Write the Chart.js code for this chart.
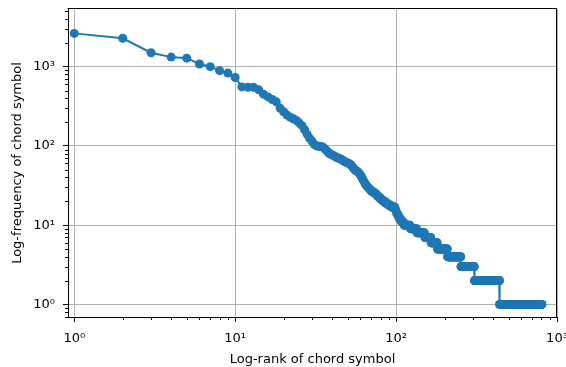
<!DOCTYPE html>
<html>
<head>
<meta charset="utf-8">
<script src="https://cdn.jsdelivr.net/npm/chart.js@4.4.1/dist/chart.umd.min.js"></script>
<style>
html,body{margin:0;padding:0;background:#fff;}
#wrap{width:566px;height:367px;position:relative;}
</style>
</head>
<body>
<div id="wrap"><canvas id="grafico"></canvas></div>
<script>

// =====================================
// DADOS
// =====================================

// frequencia por rank (rank 1 .. 111)
const freqTopo = [
    2630, 2280, 1500, 1320, 1280, 1080, 1000, 890, 830, 730,
    555, 550, 550, 510, 450, 415, 385, 360, 300, 270,
    245, 230, 220, 210, 195, 180, 160, 140, 125, 115,
    105, 100, 99, 98, 97, 92, 87, 82, 79, 77,
    75, 73, 71, 70, 69, 67, 65, 63, 62, 61,
    60, 58, 56, 53, 51, 49, 48, 47, 45, 43,
    41, 38, 36, 34, 32, 31, 30, 29, 28, 27,
    27, 26, 26, 25, 25, 24, 23, 23, 22, 22,
    21, 21, 20, 20, 20, 19, 19, 19, 18, 18,
    18, 18, 17, 17, 17, 17, 17, 17, 16, 15,
    14, 14, 13, 13, 12, 12, 12, 11, 11, 11,
    11
];

// cauda: patamares de frequencia e quantos ranks seguidos tem cada um
const caudaValores = [10, 9, 8, 7, 6, 5, 4, 3, 2, 1];
const caudaQtd     = [11, 12, 16, 14, 16, 28, 44, 54, 133, 366];

const ticksX = [1, 10, 100, 1000];
const ticksY = [1, 10, 100, 1000];
const sobrescrito = ["⁰", "¹", "²", "³"];

const xMin = 0.914, xMax = 1000;
const yMin = 0.694, yMax = 5340;


// =====================================
// PONTOS
// =====================================

const pontos = [];

freqTopo.forEach((v,i)=>{
    pontos.push({x:i+1, y:v});
});

let rank = freqTopo.length + 1;

caudaValores.forEach((v,i)=>{
    for(let k=0;k<caudaQtd[i];k++){
        pontos.push({x:rank, y:v});
        rank++;
    }
});

function rotulo(v){
    const e = Math.round(Math.log10(v));
    return "10" + sobrescrito[e];
}

function menores(min,max){
    const lista = [];
    for(let e=-1;e<=3;e++){
        for(let m=2;m<=9;m++){
            const v = m*Math.pow(10,e);
            if(v>min && v<max) lista.push(v);
        }
    }
    return lista;
}


// =====================================
// MOLDURA + TICKS MENORES
// =====================================

const moldura = {
    id:"moldura",
    afterDraw(chart){
        const c = chart.ctx;
        const a = chart.chartArea;
        const sx = chart.scales.x;
        const sy = chart.scales.y;

        c.save();
        c.strokeStyle = "#000";
        c.lineWidth = 1;

        // topo e direita
        c.beginPath();
        c.moveTo(Math.round(a.left)-0.5, Math.round(a.top)-0.5);
        c.lineTo(Math.round(a.right)-0.5, Math.round(a.top)-0.5);
        c.lineTo(Math.round(a.right)-0.5, Math.round(a.bottom)+0.5);
        c.stroke();

        c.beginPath();
        menores(xMin,xMax).forEach(v=>{
            const px = Math.round(sx.getPixelForValue(v))+0.5;
            c.moveTo(px, a.bottom);
            c.lineTo(px, a.bottom+3);
        });
        menores(yMin,yMax).forEach(v=>{
            const py = Math.round(sy.getPixelForValue(v))+0.5;
            c.moveTo(a.left, py);
            c.lineTo(a.left-3, py);
        });
        c.stroke();
        c.restore();
    }
};


// =====================================
// GRAFICO
// =====================================

const fonte = {family:"DejaVu Sans", size:13};

new Chart(document.getElementById("grafico"),{

    type:"line",

    data:{
        datasets:[{
            data: pontos,
            borderColor:"#1f77b4",
            backgroundColor:"#1f77b4",
            borderWidth:2,
            pointRadius:4.5,
            pointHoverRadius:4.5,
            pointBorderWidth:0,
            tension:0
        }]
    },

    options:{
        responsive:true,
        maintainAspectRatio:false,
        animation:false,
        layout:{padding:{top:9,right:9,left:0,bottom:0}},
        plugins:{
            legend:{display:false},
            tooltip:{enabled:false}
        },
        scales:{
            x:{
                type:"logarithmic",
                min:xMin,
                max:xMax,
                afterBuildTicks:s=>{
                    s.ticks = ticksX.map(v=>({value:v, major:true}));
                },
                afterFit:s=>{
                    s.height = 50;
                    s.paddingLeft = 0;
                    s.paddingRight = 0;
                },
                ticks:{
                    autoSkip:false,
                    maxRotation:0,
                    padding:9,
                    color:"#000",
                    font:fonte,
                    callback:v=>rotulo(v)
                },
                grid:{color:"#b0b0b0", lineWidth:1, tickColor:"#000", tickLength:5},
                border:{color:"#000", width:1},
                title:{
                    display:true,
                    text:"Log-rank of chord symbol",
                    color:"#000",
                    font:fonte,
                    padding:{top:0,bottom:0}
                }
            },
            y:{
                type:"logarithmic",
                min:yMin,
                max:yMax,
                afterBuildTicks:s=>{
                    s.ticks = ticksY.map(v=>({value:v, major:true}));
                },
                afterFit:s=>{
                    s.width = 68;
                    s.paddingTop = 0;
                    s.paddingBottom = 0;
                },
                ticks:{
                    autoSkip:false,
                    padding:8,
                    color:"#000",
                    font:fonte,
                    callback:v=>rotulo(v)
                },
                grid:{color:"#b0b0b0", lineWidth:1, tickColor:"#000", tickLength:5},
                border:{color:"#000", width:1},
                title:{
                    display:true,
                    text:"Log-frequency of chord symbol",
                    color:"#000",
                    font:fonte,
                    padding:{top:10,bottom:0}
                }
            }
        }
    },

    plugins:[moldura]
});

</script>
</body>
</html>
